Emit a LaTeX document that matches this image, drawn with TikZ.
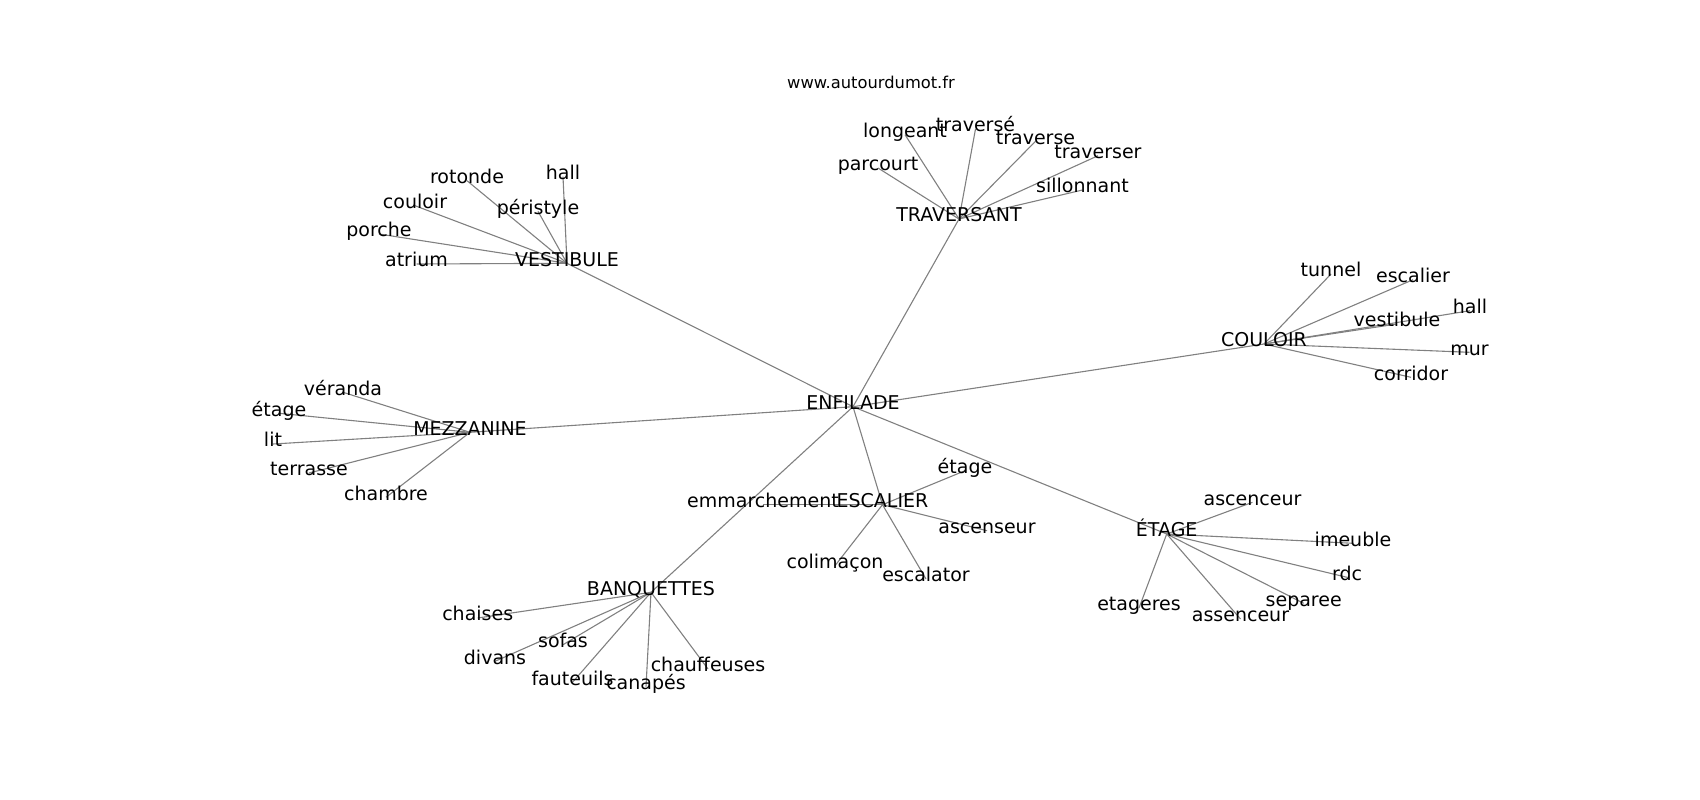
\documentclass[tikz,border=0pt]{standalone}
\usepackage{fontspec}
\setmainfont{DejaVu Sans}
\pgfdeclarelayer{bg}
\pgfsetlayers{bg,main}
\begin{document}
\begin{tikzpicture}[x=1pt,y=-1pt,
  lbl/.style={inner sep=0pt,anchor=center,yshift=-4pt,text height=0.76em,text depth=0.2em,font=\fontsize{19}{22}\selectfont},
  ttl/.style={inner sep=0pt,anchor=center,yshift=-3pt,text height=0.76em,text depth=0.2em,font=\fontsize{16.3}{19}\selectfont},
  edge/.style={draw=black!50,line width=1.1pt}]
\useasboundingbox (0,0) rectangle (1700,800);
\node[ttl] (title) at (871,82.7) {www.autourdumot.fr};
% hubs
\node[lbl] (enf) at (853,402.7) {ENFILADE};
\node[lbl] (ves) at (567,259.3) {VESTIBULE};
\node[lbl] (tra) at (959,215) {TRAVERSANT};
\node[lbl] (cou) at (1264,340) {COULOIR};
\node[lbl] (mez) at (470,428.3) {MEZZANINE};
\node[lbl] (esc) at (882.5,500.7) {ESCALIER};
\node[lbl] (eta) at (1166.7,530) {ÉTAGE};
\node[lbl] (ban) at (651,588.3) {BANQUETTES};
% vestibule
\node[lbl] (v1) at (467,176.7) {rotonde};
\node[lbl] (v2) at (563,172.7) {hall};
\node[lbl] (v3) at (415,201.7) {couloir};
\node[lbl] (v4) at (538,207.3) {péristyle};
\node[lbl] (v5) at (379,230) {porche};
\node[lbl] (v6) at (416.5,260) {atrium};
% traversant
\node[lbl] (t1) at (905,130.7) {longeant};
\node[lbl] (t2) at (975.5,125) {traversé};
\node[lbl] (t3) at (1035.5,137.3) {traverse};
\node[lbl] (t4) at (1098,151.7) {traverser};
\node[lbl] (t5) at (878,164) {parcourt};
\node[lbl] (t6) at (1082.5,186) {sillonnant};
% couloir
\node[lbl] (c1) at (1331,270) {tunnel};
\node[lbl] (c2) at (1413,275.7) {escalier};
\node[lbl] (c3) at (1470,306.7) {hall};
\node[lbl] (c4) at (1397,320) {vestibule};
\node[lbl] (c5) at (1469.5,348.3) {mur};
\node[lbl] (c6) at (1411,373.3) {corridor};
% mezzanine
\node[lbl] (m1) at (343,388.3) {véranda};
\node[lbl] (m2) at (279,409.3) {étage};
\node[lbl] (m3) at (273,440) {lit};
\node[lbl] (m4) at (309,469) {terrasse};
\node[lbl] (m5) at (386,493.3) {chambre};
% escalier
\node[lbl] (e1) at (965,466.7) {étage};
\node[lbl] (e2) at (763,500.7) {emmarchement};
\node[lbl] (e3) at (987,526.7) {ascenseur};
\node[lbl] (e4) at (835,561.7) {colimaçon};
\node[lbl] (e5) at (926,575) {escalator};
% etage
\node[lbl] (g1) at (1252.5,498.3) {ascenceur};
\node[lbl] (g2) at (1353,539.3) {imeuble};
\node[lbl] (g3) at (1347,573.3) {rdc};
\node[lbl] (g4) at (1303.7,599.3) {separee};
\node[lbl] (g5) at (1139,604) {etageres};
\node[lbl] (g6) at (1240.5,615) {assenceur};
% banquettes
\node[lbl] (b1) at (477.7,614) {chaises};
\node[lbl] (b2) at (563,640.7) {sofas};
\node[lbl] (b3) at (495,657.3) {divans};
\node[lbl] (b4) at (708,665) {chauffeuses};
\node[lbl] (b5) at (572.5,678.3) {fauteuils};
\node[lbl] (b6) at (646,682.7) {canapés};
\begin{pgfonlayer}{bg}
\foreach \h in {ves,tra,cou,mez,esc,eta,ban}
  \draw[edge] (enf.center) -- (\h.center);
\foreach \c in {v1,v2,v3,v4,v5,v6}
  \draw[edge] (ves.center) -- (\c.center);
\foreach \c in {t1,t2,t3,t4,t5,t6}
  \draw[edge] (tra.center) -- (\c.center);
\foreach \c in {c1,c2,c3,c4,c5,c6}
  \draw[edge] (cou.center) -- (\c.center);
\foreach \c in {m1,m2,m3,m4,m5}
  \draw[edge] (mez.center) -- (\c.center);
\foreach \c in {e1,e2,e3,e4,e5}
  \draw[edge] (esc.center) -- (\c.center);
\foreach \c in {g1,g2,g3,g4,g5,g6}
  \draw[edge] (eta.center) -- (\c.center);
\foreach \c in {b1,b2,b3,b4,b5,b6}
  \draw[edge] (ban.center) -- (\c.center);
\end{pgfonlayer}
\end{tikzpicture}
\end{document}
